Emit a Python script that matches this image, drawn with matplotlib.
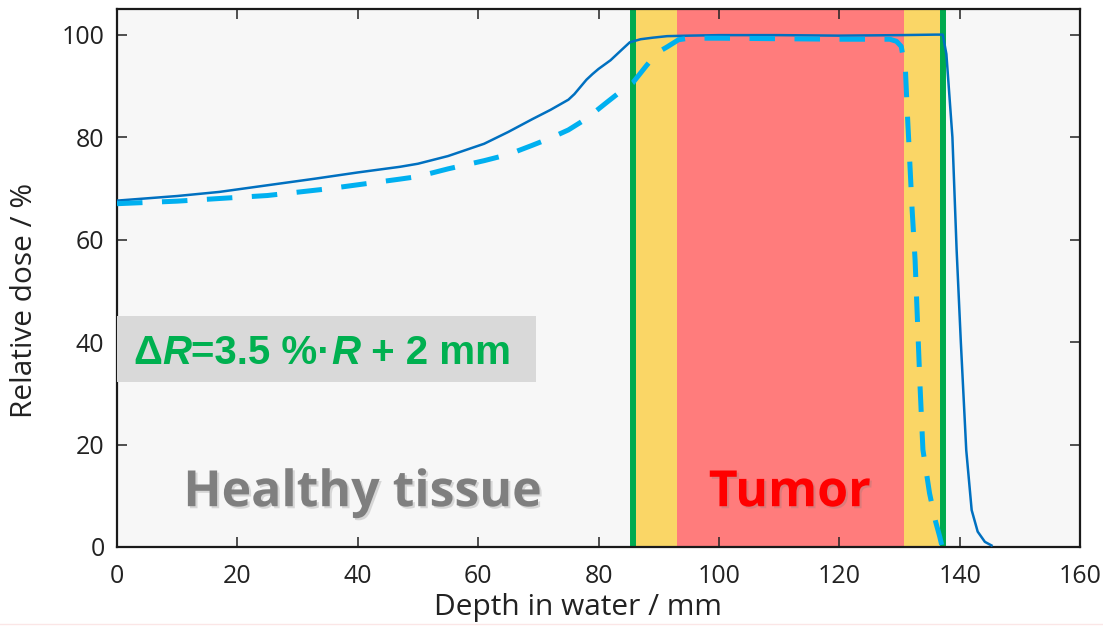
import matplotlib
matplotlib.use('Agg')
import matplotlib.pyplot as plt
import matplotlib.patheffects as pe
from matplotlib.lines import Line2D

# Depth dose curves
depth_planned = [0, 10, 17, 25, 33, 40, 47, 50, 55, 61, 65, 69, 72, 75, 76, 77, 78, 79, 80, 82,
                 84, 85.2, 87, 89, 91.4, 95, 100, 110, 120, 130, 136, 137.2, 137.8, 138.8,
                 139.5, 140.2, 141.1, 142, 143, 144.2, 145.3]
dose_planned = [67.6, 68.5, 69.3, 70.6, 71.9, 73.1, 74.2, 74.8, 76.3, 78.7, 81.0, 83.5, 85.3,
                87.3, 88.4, 89.8, 91.2, 92.3, 93.3, 95.0, 97.2, 98.5, 99.1, 99.4, 99.7, 99.8,
                99.9, 99.9, 99.8, 99.9, 100, 100, 96.2, 80, 58, 40, 18.9, 7.2, 3.0, 1.0, 0.3]

depth_shifted = [0, 10, 25, 35, 47, 50, 55, 61, 65, 69, 72, 75, 78, 81.4, 84, 85.7, 88, 89.8,
                 91.4, 93.3, 95, 100, 110, 120, 128.4, 129.5, 130.3, 131, 131.3, 131.6, 132.1,
                 132.6, 133.4, 133.9, 135, 136, 136.7, 137.1]
dose_shifted = [67.0, 67.5, 68.6, 69.9, 71.8, 72.3, 73.8, 75.4, 76.6, 78.4, 79.8, 81.4, 83.6,
                86.8, 89.2, 90.6, 94.0, 96.5, 97.6, 99.0, 99.3, 99.3, 99.2, 99.1, 99.1, 98.7,
                97.7, 93.0, 85.0, 78.0, 66.0, 56.0, 32.0, 19.0, 10.5, 5.0, 2.0, 0.0]

# regions (mm)
tumor = (93.0, 130.7)
margin_left = (85.8, 93.0)
margin_right = (130.7, 137.3)
range_limits = [85.8, 137.3]

xticks = [0, 20, 40, 60, 80, 100, 120, 140, 160]
yticks = [0, 20, 40, 60, 80, 100]

plt.rcParams['font.family'] = ['Open Sans', 'DejaVu Sans']

fig = plt.figure(figsize=(11.03, 6.27), dpi=100)
ax = fig.add_axes([117 / 1103, 80 / 627, 963 / 1103, 538 / 627])
ax.set_facecolor('#f7f7f7')

ax.axvspan(*margin_left, color='#fad666', lw=0, zorder=1)
ax.axvspan(*margin_right, color='#fad666', lw=0, zorder=1)
ax.axvspan(*tumor, color='#ff7c7c', lw=0, zorder=1)
for x in range_limits:
    ax.axvline(x, color='#00aa4f', lw=4.3, zorder=2)

ax.plot(depth_planned, dose_planned, color='#0070c0', lw=1.8, zorder=4)
ax.plot(depth_shifted, dose_shifted, color='#00b0f0', lw=3.6, dashes=(5.1, 3.9),
        dash_capstyle='butt', zorder=5)

ax.set_xlim(0, 160)
ax.set_ylim(0, 105)
ax.set_xticks(xticks)
ax.set_yticks(yticks)
ax.tick_params(direction='in', top=True, right=True, length=7, width=1.1,
               labelsize=18, pad=12, colors='#222222')
ax.tick_params(axis='y', pad=9)
for s in ax.spines.values():
    s.set_linewidth(1.6)
    s.set_color('#1a1a1a')

fig.text(578 / 1103, 1 - 607 / 627, 'Depth in water / mm', ha='center', va='center',
         fontsize=21.5, color='#222222')
fig.text(25 / 1103, 1 - 300 / 627, 'Relative dose / %', ha='center', va='center',
         rotation=90, fontsize=21.5, color='#222222')

shadow = [pe.withSimplePatchShadow(offset=(1.5, -1.5), shadow_rgbFace='#777777', alpha=0.25)]
ax.text(40.8, 10.5, 'Healthy tissue', ha='center', va='center', fontsize=36,
        fontweight='bold', color='#7f7f7f', path_effects=shadow, zorder=6)
ax.text(111.8, 10.5, 'Tumor', ha='center', va='center', fontsize=36,
        fontweight='bold', color='#ff0000', path_effects=shadow, zorder=6)

# range uncertainty formula box
box = plt.Rectangle((0, 32.2), 69.6, 12.9, facecolor='#d9d9d9', edgecolor='none', zorder=6)
ax.add_patch(box)
pieces = [('Δ', 'normal'), ('R', 'italic'), ('=3.5 %·', 'normal'), ('R', 'italic'),
          (' + 2 mm', 'normal')]
prev = None
for txt, style in pieces:
    kw = dict(fontsize=29, fontweight='bold', fontstyle=style, color='#00b050',
              family='Liberation Sans', va='bottom', ha='left', zorder=7)
    if prev is None:
        prev = ax.annotate(txt, xy=(2.7, 34.2), xycoords='data', **kw)
    else:
        prev = ax.annotate(txt, xy=(1, 0), xycoords=prev, **kw)

fig.add_artist(Line2D([0, 1], [3 / 627, 3 / 627], color='#fbe6e6', lw=1))

fig.savefig('out.png', dpi=100)
